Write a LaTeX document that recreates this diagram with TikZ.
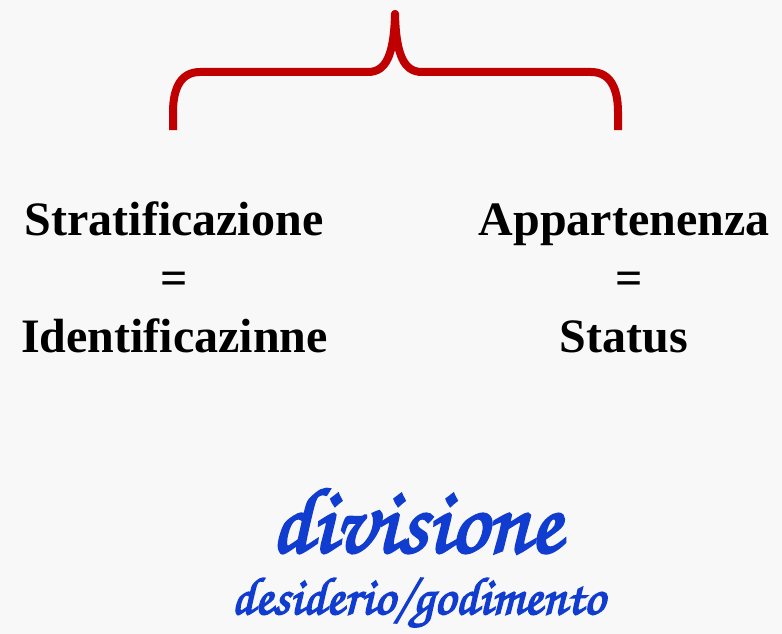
\documentclass[tikz,border=0pt]{standalone}
\usepackage{fontspec}
\setmainfont{Liberation Serif}
\newfontfamily\scriptfam[FakeBold=3]{TeX Gyre Chorus}
\definecolor{bg}{RGB}{248,248,248}
\definecolor{bracered}{RGB}{192,0,0}
\definecolor{scriptblue}{RGB}{16,60,208}
\tikzset{
  bigword/.style={font=\fontsize{48}{56}\selectfont\bfseries, inner sep=0pt, anchor=base},
  bracestyle/.style={draw=bracered, line width=8pt, line cap=butt, line join=round},
  scriptbig/.style={font=\fontsize{93}{100}\scriptfam, text=scriptblue, inner sep=0pt, anchor=base},
  scriptsmall/.style={font=\fontsize{53}{62}\scriptfam, text=scriptblue, inner sep=0pt, anchor=base}
}
\begin{document}
\begin{tikzpicture}[x=1pt,y=-1pt]
\fill[bg] (0,0) rectangle (782,634);
\useasboundingbox (0,0) rectangle (782,634);
% brace
\coordinate (bl) at (173,130);
\coordinate (br) at (618,130);
\coordinate (tip) at (395,14);
\draw[bracestyle] (bl) -- (173,112) .. controls (173,88) and (181,72) .. (200,72)
  -- (368,72) .. controls (386,72) and (394,55) .. (tip)
  .. controls (396,55) and (404,72) .. (422,72)
  -- (591,72) .. controls (610,72) and (618,88) .. (618,112) -- (br);
\fill[bracered] (tip) circle (4);
% left column
\node[bigword] (strat) at (174,235) {Stratificazione};
\node[bigword] (eqL) at (174.5,294) {=};
\node[bigword] (ident) at (174.5,352) {Identificazinne};
% right column
\node[bigword] (appart) at (624,235) {Appartenenza};
\node[bigword] (eqR) at (629,294) {=};
\node[bigword] (status) at (624,352) {Status};
% script text
\node[scriptbig] (divis) at (416,552) {divisione};
\node[scriptsmall] (desid) at (418,614) {desiderio/godimento};
\end{tikzpicture}
\end{document}
